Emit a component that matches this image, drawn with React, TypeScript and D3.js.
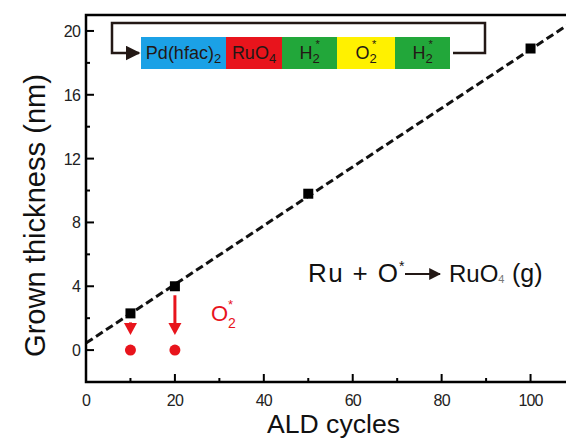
import React from 'react';
import * as d3 from 'd3';

// measured growth (nm) vs ALD cycles
const cycles = [10, 20, 50, 100];
const thickness = [2.3, 4.0, 9.8, 18.9];
// after O2* exposure
const etchedCycles = [10, 20];
const etchedThickness = [0, 0];
// linear fit of the growth
const fitSlope = 0.184;
const fitIntercept = 0.44;

const xMajor = [0, 20, 40, 60, 80, 100];
const xMinor = [10, 30, 50, 70, 90];
const yMajor = [0, 4, 8, 12, 16, 20];
const yMinor = [-2, 2, 6, 10, 14, 18];

const steps = [
  { main: 'Pd(hfac)', sub: '2', sup: '', color: '#1ba1e6' },
  { main: 'RuO', sub: '4', sup: '', color: '#e8141c' },
  { main: 'H', sub: '2', sup: '*', color: '#22a73a' },
  { main: 'O', sub: '2', sup: '*', color: '#fff100' },
  { main: 'H', sub: '2', sup: '*', color: '#22a73a' },
];
const stepWidths = [85, 56, 55, 58, 55];

const W = 566;
const H = 439;
const M = { left: 86, top: 15, right: 575, bottom: 382 };
const RED = '#e8141c';
const FONT = '"Liberation Sans", Arial, sans-serif';

export default function App() {
  const x = d3.scaleLinear().domain([0, 110]).range([M.left, M.right]);
  const y = d3.scaleLinear().domain([-2, 21]).range([M.bottom, M.top]);

  const fit = d3
    .line<number>()
    .x(d => x(d))
    .y(d => y(fitIntercept + fitSlope * d));

  const boxX0 = 141;
  const boxY = 37;
  const boxH = 32;
  const starts = stepWidths.map((_, i) => boxX0 + d3.sum(stepWidths.slice(0, i)));
  const boxEnd = boxX0 + d3.sum(stepWidths);

  return (
    <svg width={W} height={H} style={{ position: 'absolute', left: 0, top: 0, background: '#fff' }} fontFamily={FONT}>
      <defs>
        <clipPath id="plot">
          <rect x={M.left} y={M.top} width={M.right - M.left} height={M.bottom - M.top} />
        </clipPath>
        <marker id="blk" viewBox="0 0 10 10" refX="9" refY="5" markerWidth="6" markerHeight="6" orient="auto">
          <path d="M0,0 L10,5 L0,10 z" fill="#231815" />
        </marker>
      </defs>

      {/* fit line */}
      <path
        d={fit([0, 110]) ?? ''}
        clipPath="url(#plot)"
        fill="none"
        stroke="#111"
        strokeWidth={3}
        strokeDasharray="8,4"
      />

      {/* data squares */}
      {cycles.map((c, i) => (
        <rect key={c} x={x(c) - 5} y={y(thickness[i]) - 5} width={10} height={10} fill="#000" />
      ))}

      {/* red arrows and etched points */}
      {etchedCycles.map((c, i) => {
        const top = y(thickness[i]) + 9;
        const tip = y(etchedThickness[i]) - 15;
        return (
          <g key={c}>
            {tip - 12 > top && (
              <line x1={x(c)} x2={x(c)} y1={top} y2={tip - 10} stroke={RED} strokeWidth={3} />
            )}
            <path d={`M${x(c) - 6.5},${tip - 12} L${x(c) + 6.5},${tip - 12} L${x(c)},${tip} Z`} fill={RED} />
            <circle cx={x(c)} cy={y(etchedThickness[i])} r={5.5} fill={RED} />
          </g>
        );
      })}
      <text x={211} y={321} fontSize={22} fill={RED}>O</text>
      <text x={228} y={328} fontSize={14} fill={RED}>2</text>
      <text x={228} y={309} fontSize={13} fill={RED}>*</text>

      {/* reaction */}
      <text x={308} y={282} fontSize={26} fill="#111" textLength={90} lengthAdjust="spacing">Ru + O</text>
      <text x={399} y={271} fontSize={14} fill="#111">*</text>
      <line x1={405} x2={440} y1={274} y2={274} stroke="#231815" strokeWidth={2} markerEnd="url(#blk)" />
      <text x={449} y={282} fontSize={24} fill="#111">
        RuO<tspan fontSize={11} fill="#777" dy={1}>4</tspan>
      </text>
      <text x={512} y={282} fontSize={25} fill="#111">(g)</text>

      {/* ALD sequence */}
      <path
        d={`M${boxEnd + 3},53 H485 V23 H112 V53 H${boxX0 - 2}`}
        fill="none"
        stroke="#231815"
        strokeWidth={2.5}
        markerEnd="url(#blk)"
      />
      {steps.map((s, i) => {
        const cx = starts[i] + stepWidths[i] / 2;
        return (
          <g key={i}>
            <rect x={starts[i]} y={boxY} width={stepWidths[i]} height={boxH} fill={s.color} />
            <text x={cx} y={boxY + 22} fontSize={18} fill="#231815" textAnchor="middle">
              <tspan>{s.main}</tspan>
              <tspan fontSize={13} dy={4}>{s.sub}</tspan>
            </text>
            {s.sup && (
              <text x={cx + 6} y={boxY + 11} fontSize={11} fill="#231815">*</text>
            )}
          </g>
        );
      })}

      {/* axes frame */}
      <path
        d={`M${M.right},${M.top} H${M.left} V${M.bottom} H${M.right}`}
        fill="none"
        stroke="#000"
        strokeWidth={2.5}
      />
      {xMajor.map(t => (
        <g key={'xM' + t}>
          {t > 0 && <line x1={x(t)} x2={x(t)} y1={M.bottom} y2={M.bottom - 8} stroke="#000" strokeWidth={2} />}
          <text x={x(t)} y={406} fontSize={16} fill="#222" textAnchor="middle" letterSpacing={-0.8}>
            {t}
          </text>
        </g>
      ))}
      {xMinor.map(t => (
        <line key={'xm' + t} x1={x(t)} x2={x(t)} y1={M.bottom} y2={M.bottom - 4} stroke="#000" strokeWidth={2} />
      ))}
      {yMajor.map(t => (
        <g key={'yM' + t}>
          <line x1={M.left} x2={M.left + 8} y1={y(t)} y2={y(t)} stroke="#000" strokeWidth={2} />
          <text x={80} y={y(t) + 6} fontSize={16} fill="#222" textAnchor="end" letterSpacing={-0.8}>
            {t}
          </text>
        </g>
      ))}
      {yMinor.map(t => (
        <line key={'ym' + t} x1={M.left} x2={M.left + 4} y1={y(t)} y2={y(t)} stroke="#000" strokeWidth={2} />
      ))}

      <text x={267} y={433} fontSize={26} fill="#111" textLength={133} lengthAdjust="spacingAndGlyphs">
        ALD cycles
      </text>
      <text
        transform="translate(45,357) rotate(-90)"
        fontSize={29}
        fill="#111"
        textLength={283}
        lengthAdjust="spacingAndGlyphs"
      >
        Grown thickness (nm)
      </text>
    </svg>
  );
}
